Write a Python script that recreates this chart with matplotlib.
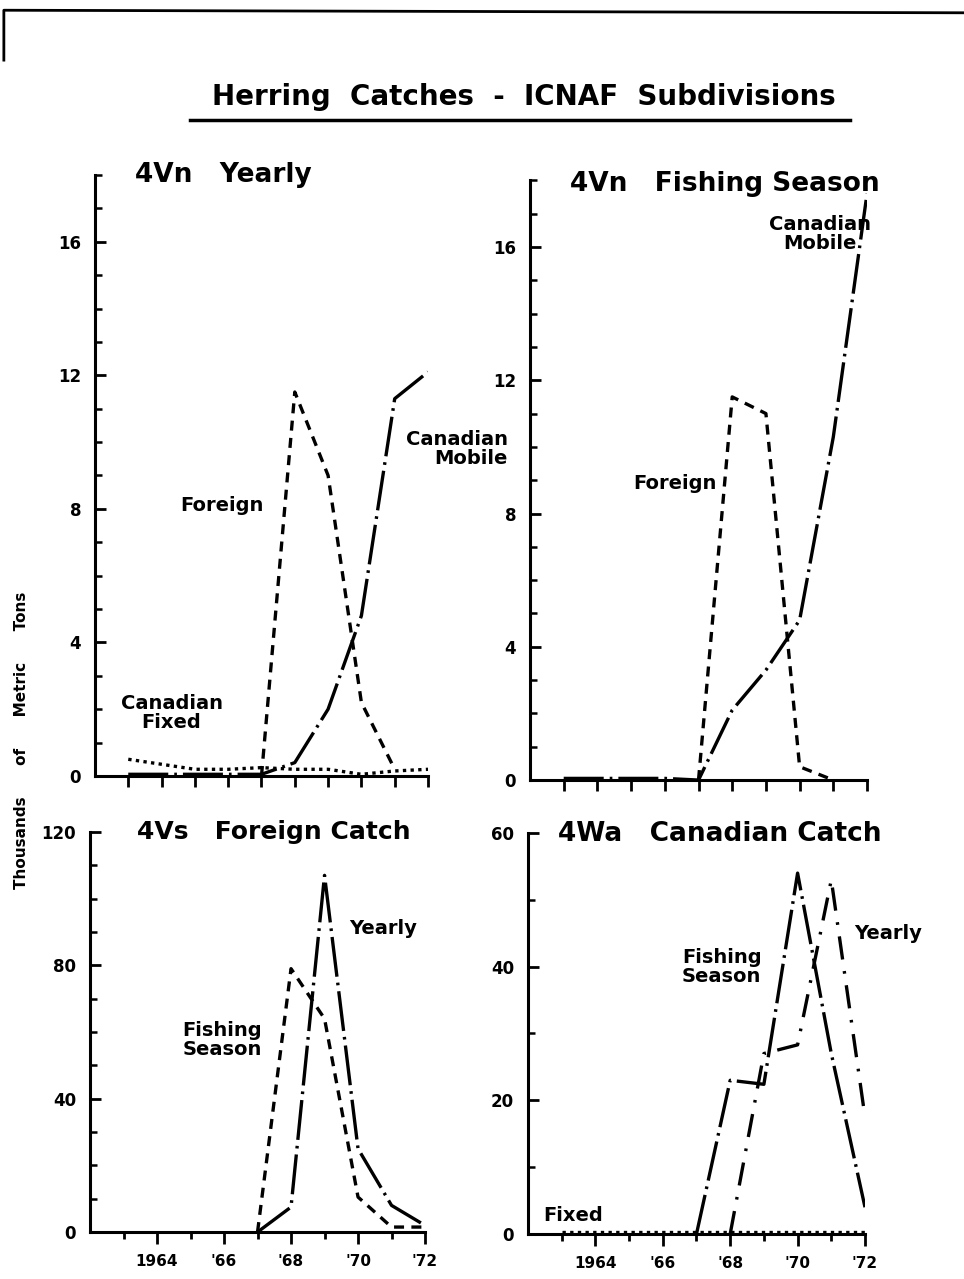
import numpy as np
import matplotlib
matplotlib.use('Agg')
from matplotlib import pyplot as plt
from matplotlib.lines import Line2D

plt.rcParams['font.family'] = ['DejaVu Sans']
plt.rcParams['font.weight'] = 'bold'

# 4Vn yearly (thousands of metric tons)
vn_year_x = [1963, 1964, 1965, 1966, 1967, 1968, 1969, 1970, 1971, 1972]
vn_year_foreign = [None, None, None, None, 0.0, 11.5, 9.0, 2.2, 0.2, None]
vn_year_fixed = [0.5, 0.35, 0.2, 0.2, 0.25, 0.2, 0.2, 0.05, 0.15, 0.2]
vn_year_mobile = [0.05, 0.05, 0.05, 0.05, 0.05, 0.4, 2.0, 4.8, 11.3, 12.1]

# 4Vn fishing season
vn_season_x = [1963, 1964, 1965, 1966, 1967, 1968, 1969, 1970, 1971, 1972]
vn_season_foreign = [None, None, None, None, 0.0, 11.5, 11.0, 0.4, 0.0, None]
vn_season_mobile = [0.05, 0.05, 0.05, 0.05, 0.0, 2.1, 3.3, 4.8, 10.3, 17.6]

# 4Vs foreign catch
vs_x = [1967, 1968, 1969, 1970, 1971, 1972]
vs_season = [0.0, 79.0, 64.0, 10.5, 1.5, 1.5]
vs_yearly = [0.0, 7.5, 107.0, 25.0, 8.0, 2.0]

# 4Wa canadian catch
wa_x = [1967, 1968, 1969, 1970, 1971, 1972]
wa_season = [0.0, 23.0, 22.4, 54.0, 27.0, 4.0]
wa_yearly = [None, 0.0, 27.0, 28.3, 53.0, 17.5]
wa_fixed_x = [1963, 1964, 1965, 1966, 1967, 1968, 1969, 1970, 1971, 1972]
wa_fixed = [0.3, 0.3, 0.3, 0.3, 0.3, 0.3, 0.3, 0.3, 0.3, 0.3]

year_ticks = list(range(1963, 1973))
label_years = [1964, 1966, 1968, 1970, 1972]
odd_years = [1963, 1965, 1967, 1969, 1971]
year_labels = ['1964', "'66", "'68", "'70", "'72"]


def arr(v):
    return np.array([np.nan if a is None else a for a in v], dtype=float)


SHORT = (0, (3.0, 2.2))
LONGDOT = (0, (12, 1.8, 0.8, 1.8))
LONGDASH = (0, (7, 3.5, 0.8, 3.5))
DOTTED = (0, (1.0, 1.3))
LW = 2.4

fig = plt.figure(figsize=(9.64, 12.79), dpi=100)


def style_axis(ax, ymax, ystep, minor_step, labels):
    ax.set_xlim(1962, 1972)
    ax.set_ylim(0, ymax)
    for s in ['top', 'right']:
        ax.spines[s].set_visible(False)
    for s in ['left', 'bottom']:
        ax.spines[s].set_linewidth(2.2)
    ax.set_yticks(np.arange(0, ymax + 0.01, ystep))
    ax.set_yticks(np.arange(0, ymax + 0.01, minor_step), minor=True)
    ax.set_yticklabels([str(int(v)) for v in np.arange(0, ymax + 0.01, ystep)])
    ax.tick_params(axis='y', which='major', direction='in', length=8, width=2, labelsize=12, pad=10)
    ax.tick_params(axis='y', which='minor', direction='in', length=5, width=1.8)
    if labels:
        ax.set_xticks(odd_years, minor=True)
        ax.set_xticks(label_years)
        ax.set_xticklabels(year_labels)
        ax.tick_params(axis='x', which='major', direction='out', length=8.5, width=2, labelsize=11, pad=7)
        ax.tick_params(axis='x', which='minor', direction='out', length=5, width=2)
    else:
        ax.set_xticks(year_ticks)
        ax.set_xticklabels([])
        ax.tick_params(axis='x', which='major', direction='out', length=8, width=2)
    for lab in ax.get_xticklabels() + ax.get_yticklabels():
        lab.set_fontweight('bold')


# top-left: 4Vn yearly
ax1 = fig.add_axes([0.0985, 0.3933, 0.3455, 0.4699])
style_axis(ax1, 18, 4, 1, False)
ax1.plot(vn_year_x, arr(vn_year_foreign), color='black', lw=LW, linestyle=SHORT)
ax1.plot(vn_year_x, arr(vn_year_mobile), color='black', lw=LW, linestyle=LONGDOT)
ax1.plot(vn_year_x, arr(vn_year_fixed), color='black', lw=LW, linestyle=DOTTED)
ax1.text(1963.2, 18.0, '4Vn   Yearly', fontsize=19, fontweight='bold', va='center')
ax1.text(1965.8, 8.1, 'Foreign', fontsize=14, fontweight='bold', ha='center', va='center')
ax1.text(1974.4, 9.8, 'Canadian\nMobile', fontsize=14, fontweight='bold', ha='right', va='center',
         linespacing=1.0)
ax1.text(1964.3, 1.9, 'Canadian\nFixed', fontsize=14, fontweight='bold', ha='center', va='center',
         linespacing=1.0)

# top-right: 4Vn fishing season
ax2 = fig.add_axes([0.5498, 0.3901, 0.3496, 0.4689])
style_axis(ax2, 18, 4, 1, False)
ax2.plot(vn_season_x, arr(vn_season_foreign), color='black', lw=LW, linestyle=SHORT)
ax2.plot(vn_season_x, arr(vn_season_mobile), color='black', lw=LW, linestyle=LONGDOT)
ax2.text(1963.2, 17.9, '4Vn   Fishing Season', fontsize=19, fontweight='bold', va='center')
ax2.text(1970.6, 16.4, 'Canadian\nMobile', fontsize=14, fontweight='bold', ha='center', va='center',
         linespacing=1.0)
ax2.text(1966.3, 8.9, 'Foreign', fontsize=14, fontweight='bold', ha='center', va='center')

# bottom-left: 4Vs foreign catch
ax3 = fig.add_axes([0.0934, 0.0367, 0.3475, 0.3128])
style_axis(ax3, 120, 40, 10, True)
ax3.plot(vs_x, vs_season, color='black', lw=LW, linestyle=SHORT)
ax3.plot(vs_x, vs_yearly, color='black', lw=LW, linestyle=LONGDOT)
ax3.text(1963.4, 120, '4Vs   Foreign Catch', fontsize=18, fontweight='bold', va='center')
ax3.text(1970.75, 91, 'Yearly', fontsize=14, fontweight='bold', ha='center', va='center')
ax3.text(1965.95, 57.6, 'Fishing\nSeason', fontsize=14, fontweight='bold', ha='center', va='center',
         linespacing=1.0)

# bottom-right: 4Wa canadian catch
ax4 = fig.add_axes([0.5477, 0.0352, 0.3496, 0.3135])
style_axis(ax4, 60, 20, 10, True)
ax4.plot(wa_x, wa_season, color='black', lw=LW, linestyle=LONGDOT)
ax4.plot(wa_x, arr(wa_yearly), color='black', lw=LW, linestyle=LONGDASH)
ax4.plot(wa_fixed_x, wa_fixed, color='black', lw=LW, linestyle=DOTTED)
ax4.text(1962.9, 59.8, '4Wa   Canadian Catch', fontsize=19, fontweight='bold', va='center')
ax4.text(1972.7, 45, 'Yearly', fontsize=14, fontweight='bold', ha='center', va='center')
ax4.text(1967.75, 40.0, 'Fishing\nSeason', fontsize=14, fontweight='bold', ha='center', va='center',
         linespacing=1.0)
ax4.text(1963.35, 2.8, 'Fixed', fontsize=14, fontweight='bold', ha='center', va='center')

# main title, underline, axis label and scan border
fig.text(0.543, 0.924, 'Herring  Catches  -  ICNAF  Subdivisions', fontsize=20, fontweight='bold',
         ha='center', va='center')
fig.add_artist(Line2D([0.197, 0.882], [0.906, 0.906], color='black', lw=2.5))
fig.text(0.022, 0.421, 'Thousands      of      Metric      Tons', fontsize=11, fontweight='bold',
         rotation=90, ha='center', va='center')
fig.add_artist(Line2D([0.004, 0.004, 1.0], [0.953, 0.992, 0.990], color='black', lw=2))

plt.savefig('out.png', dpi=100)
